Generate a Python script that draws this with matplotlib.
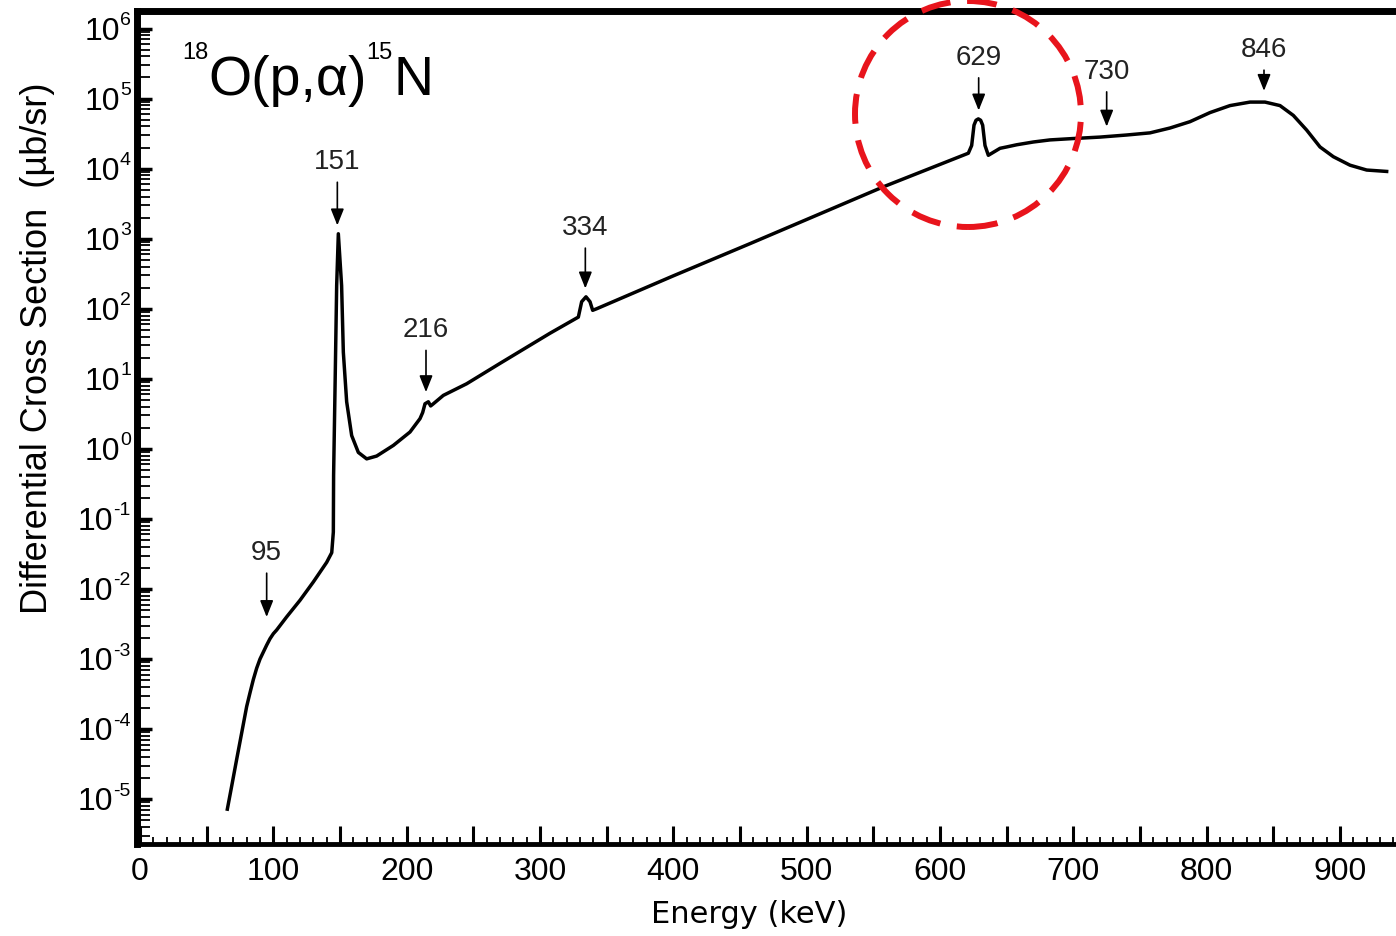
#! /usr/bin/env python
#
import numpy as np
import matplotlib
matplotlib.use("Agg")
import matplotlib.pyplot as plt
from matplotlib.patches import Ellipse
from matplotlib.ticker import FixedLocator, LogLocator, MultipleLocator, FuncFormatter

plt.rcParams['font.family'] = ['Liberation Sans', 'DejaVu Sans']

# excitation function (keV, ub/sr)
energy = [65.5, 68.8, 72.5, 76.3, 80, 82.5, 85, 87.5, 90, 95, 97.5, 100, 102.5, 110, 120,
          130, 140, 143.8, 145, 145.2, 146.3, 147.5, 148.75, 151.2, 152.5, 155, 158.75,
          163.75, 170, 177.5, 190, 202.5, 210, 212, 213.75, 216.25, 218, 220, 227.5, 245,
          270, 307.5, 328.75, 331.25, 334.5, 337.5, 339.5, 342.5, 400, 457.5, 557.5,
          621.25, 623.75, 625.5, 627, 628.75, 630.5, 632, 633.75, 636.25, 645, 650, 657.5,
          670, 682.5, 700, 720, 740, 757.5, 772.5, 787.5, 802.5, 817.5, 832.5, 843.75,
          855, 865, 875, 885, 895, 907.5, 920, 935]
xsec = [7.2e-6, 1.55e-5, 3.7e-5, 8.9e-5, 2.1e-4, 3.3e-4, 5.1e-4, 7.4e-4, 1.0e-3, 1.58e-3,
        1.95e-3, 2.3e-3, 2.6e-3, 4.0e-3, 6.9e-3,
        1.26e-2, 2.4e-2, 3.3e-2, 6.5e-2, 0.42, 7.9, 214, 1175, 214, 24, 4.7, 1.55,
        0.89, 0.72, 0.79, 1.12, 1.74, 2.7, 3.3, 4.4, 4.7, 4.1, 4.4, 5.8, 8.5,
        16.6, 44.7, 76, 126, 148, 126, 95, 100, 295, 850, 5500,
        16600, 21400, 41700, 49000, 51300, 49000, 41700, 21400, 15500, 19500, 20400, 21900,
        24000, 25700, 26900, 28200, 30200, 32400, 38000, 46800, 63100, 79400, 89100, 89100,
        79400, 57500, 35500, 20400, 14800, 11200, 9550, 9120]

# resonance labels and where their arrows sit
peak_labels = ['95', '151', '216', '334', '629', '730', '846']
peak_x = [95, 148, 214.5, 334, 629, 725, 843]
text_exp = [-1.47, 4.11, 1.71, 3.17, 5.6, 5.4, 5.71]
head_exp = [-2.4, 3.19, 0.81, 2.29, 4.83, 4.6, 5.11]

decades = list(range(-5, 7))

W, H = 1396, 937
fig = plt.figure(figsize=(W / 100, H / 100), dpi=100)
ax = fig.add_axes([137 / W, 92 / H, 1280 / W, 833 / H])

ax.plot(energy, xsec, color='k', lw=2.5, solid_joinstyle='round')
ax.set_yscale('log')
ax.set_xlim(-2.25, 957.75)
ax.set_ylim(10 ** -5.64, 10 ** 6.25)

ax.yaxis.set_major_locator(FixedLocator([10.0 ** k for k in decades]))
ax.yaxis.set_minor_locator(LogLocator(base=10, subs=range(2, 10), numticks=50))
ax.xaxis.set_major_locator(MultipleLocator(50))
ax.xaxis.set_minor_locator(MultipleLocator(10))
ax.xaxis.set_major_formatter(FuncFormatter(lambda v, p: '%d' % v if round(v) % 100 == 0 else ''))

ax.tick_params(axis='y', which='major', direction='in', length=11, width=2.5, labelleft=False)
ax.tick_params(axis='y', which='minor', direction='in', length=9, width=1.3)
ax.tick_params(axis='x', which='major', direction='in', length=13, width=2.2, pad=9, labelsize=23)
ax.tick_params(axis='x', which='minor', direction='in', length=5, width=1.3)

ax.spines['left'].set_linewidth(5)
ax.spines['top'].set_linewidth(5)
ax.spines['bottom'].set_linewidth(3.5)
ax.spines['right'].set_visible(False)

renderer = fig.canvas.get_renderer()

# y tick labels: "10" with a small raised exponent, right aligned as a group
for k in decades:
    ypx = ax.transData.transform((1.0, 10.0 ** k))[1]
    ex = fig.text(131 / W, (ypx + 9) / H, '%d' % k, fontsize=14, ha='right', va='center')
    x0 = ex.get_window_extent(renderer).x0
    fig.text(x0 / W, (ypx - 2) / H, '10', fontsize=23, ha='right', va='center')

for lab, x, te, he in zip(peak_labels, peak_x, text_exp, head_exp):
    ax.annotate(lab, xy=(x, 10.0 ** he), xytext=(x, 10.0 ** te), ha='center', va='center',
                fontsize=20, color='#222222',
                arrowprops=dict(arrowstyle='-|>,head_length=0.5,head_width=0.2', color='k',
                                lw=1.2, shrinkA=4, shrinkB=0, mutation_scale=20))

# reaction title, built piece by piece so the mass numbers stay small
xpos = 182
for s, size, base in [('18', 17, 59), ('O(p,α)', 40, 95), ('15', 17, 59), ('N', 40, 95)]:
    t = fig.text(xpos / W, 1 - base / H, s, fontsize=size, ha='left', va='baseline')
    xpos = t.get_window_extent(renderer).x1

fig.text(38 / W, 1 - 348 / H, 'Differential Cross Section  (µb/sr)', rotation=90,
         ha='center', va='center', fontsize=26)
fig.text(749 / W, 1 - 915 / H, 'Energy (keV)', ha='center', va='center', fontsize=22,
         family='DejaVu Sans')

circ = Ellipse((968 / W, 1 - 115 / H), 226 / W, 226 / H, transform=fig.transFigure,
               fill=False, ec='#e8141c', lw=4.3, ls=(0, (5, 2.8)), zorder=10)
fig.add_artist(circ)

fig.savefig('out.png', dpi=100)
